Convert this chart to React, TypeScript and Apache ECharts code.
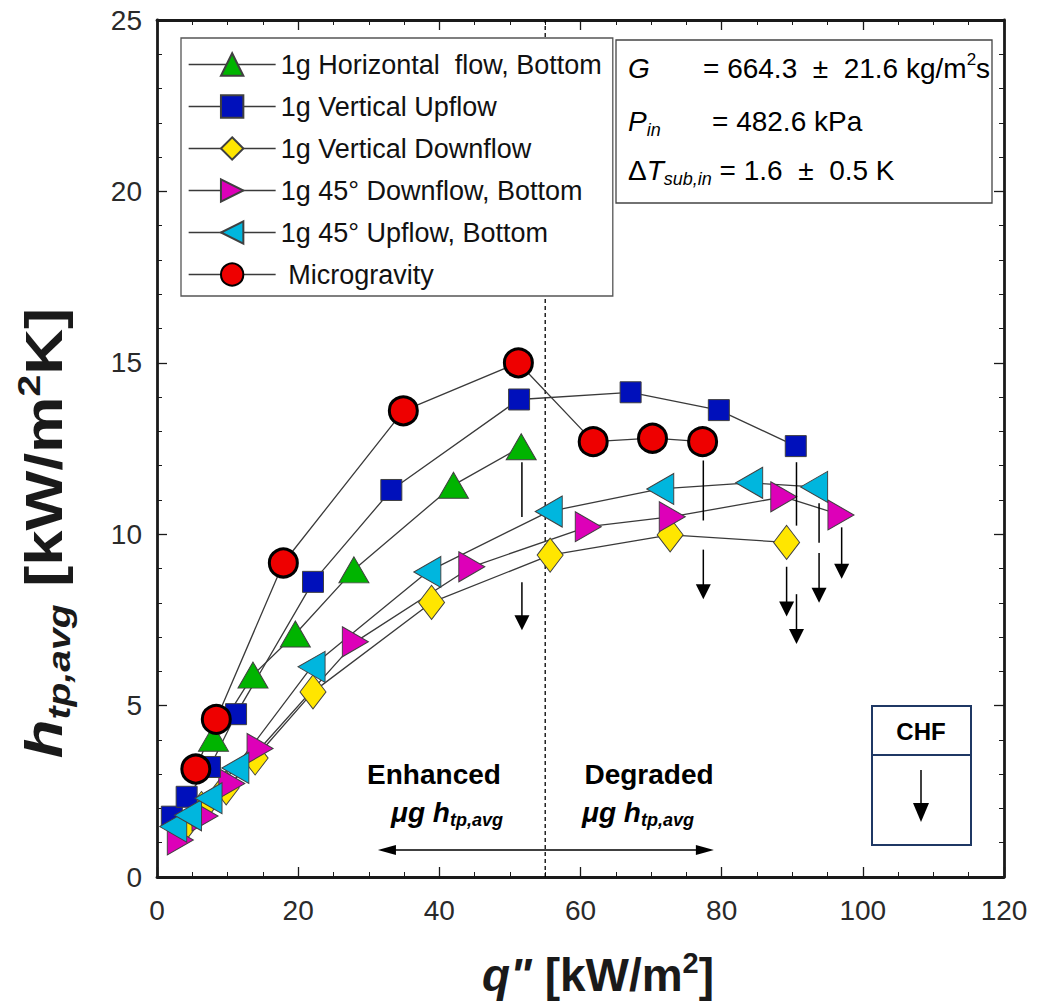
import { useEffect, useRef } from "react";
import * as echarts from "echarts";

// Heat flux q'' [kW/m²] vs. average two-phase heat transfer coefficient h_tp,avg [kW/m²K]
const horizQ = [8.0, 13.6, 19.6, 27.9, 42.0, 51.6];
const horizH = [4.05, 5.89, 7.09, 8.96, 11.43, 12.55];

const upQ = [2.1, 4.2, 7.5, 11.2, 22.1, 33.2, 51.3, 67.1, 79.6, 90.5];
const upH = [1.76, 2.34, 3.21, 4.75, 8.61, 11.29, 13.93, 14.14, 13.62, 12.57];

const downQ = [3.5, 6.3, 9.8, 13.9, 22.1, 38.9, 55.7, 72.7, 89.2];
const downH = [1.4, 2.0, 2.6, 3.47, 5.4, 8.01, 9.39, 9.98, 9.76];

const down45Q = [3.3, 6.8, 10.6, 14.6, 28.1, 44.6, 61.1, 73.0, 88.8, 96.9];
const down45H = [1.08, 1.78, 2.73, 3.75, 6.86, 9.05, 10.22, 10.51, 11.09, 10.56];

const up45Q = [2.3, 4.4, 7.3, 11.1, 21.9, 38.3, 55.5, 71.3, 83.9, 93.1];
const up45H = [1.47, 1.8, 2.3, 3.18, 6.13, 8.9, 10.66, 11.32, 11.5, 11.38];

const microQ = [5.5, 8.4, 17.9, 34.9, 51.2, 61.8, 70.2, 77.3];
const microH = [3.15, 4.6, 9.16, 13.6, 15.0, 12.7, 12.8, 12.7];

// CHF markers: [q, h start, h end, arrow head (1) or plain segment (0)]
const chfArrows = [
  [51.7, 12.1, 10.5, 0],
  [51.7, 8.6, 7.2, 1],
  [77.4, 12.15, 10.4, 0],
  [77.4, 9.55, 8.1, 1],
  [89.2, 9.05, 7.6, 1],
  [90.6, 12.1, 10.25, 0],
  [90.6, 8.25, 6.8, 1],
  [93.8, 10.9, 9.75, 0],
  [93.8, 9.45, 8.0, 1],
  [97.0, 10.2, 8.7, 1],
];

// Enhanced / degraded regime arrow: [q left, q right, h]
const regimeArrow = [[31.3, 78.9, 0.79]];
const dividerQ = 55;

const xTicks = { min: 0, max: 120, interval: 20 };
const yTicks = { min: 0, max: 25, interval: 5 };

const legendNames = [
  "1g Horizontal  flow, Bottom",
  "1g Vertical Upflow",
  "1g Vertical Downflow",
  "1g 45° Downflow, Bottom",
  "1g 45° Upflow, Bottom",
  " Microgravity",
];

const FONT = 'Arial, "Liberation Sans", Helvetica, sans-serif';
const LINE = "#3a3a3a";

const pairs = (q: number[], h: number[]) => q.map((x, i) => [x, h[i]]);

const RIGHT_TRI = "path://M0,0L26,15L0,30Z";
const LEFT_TRI = "path://M26,0L0,15L26,30Z";

export default function App() {
  const ref = useRef<HTMLDivElement>(null);

  useEffect(() => {
    if (!ref.current) return;
    const chart = echarts.init(ref.current, undefined, { renderer: "svg" });

    const lineSeries = (
      name: string,
      data: number[][],
      symbol: string,
      symbolSize: number | number[],
      color: string,
      border = "#404040",
      borderWidth = 1
    ) => ({
      name,
      type: "line",
      data,
      symbol,
      symbolSize,
      showSymbol: true,
      itemStyle: { color, borderColor: border, borderWidth },
      lineStyle: { color: LINE, width: 1.3 },
      emphasis: { disabled: true },
    });

    const axisCommon = {
      axisLine: { show: true, onZero: false, lineStyle: { color: "#1a1a1a", width: 2.8 } },
      axisTick: { show: true, inside: true, length: 10, lineStyle: { color: "#1a1a1a", width: 1.3 } },
      minorTick: { show: true, inside: true, length: 5, lineStyle: { color: "#1a1a1a", width: 1 } },
      splitLine: { show: false },
    };

    const sup = (size: number, extra: any = {}) => ({
      fontSize: size,
      fontFamily: FONT,
      fill: "#000",
      lineHeight: size,
      verticalAlign: "top",
      ...extra,
    });
    const sub = (size: number, extra: any = {}) => ({
      fontSize: size,
      fontFamily: FONT,
      fill: "#000",
      lineHeight: size,
      verticalAlign: "bottom",
      ...extra,
    });

    const option: any = {
      animation: false,
      textStyle: { fontFamily: FONT },
      grid: { left: 157, top: 20, right: 33, bottom: 128, containLabel: false },
      xAxis: [
        {
          type: "value",
          ...xTicks,
          position: "bottom",
          ...axisCommon,
          minorTick: { ...axisCommon.minorTick, splitNumber: 4 },
          axisLabel: { fontSize: 28, color: "#2a2a2a", margin: 19, fontFamily: FONT },
        },
        {
          type: "value",
          ...xTicks,
          position: "top",
          ...axisCommon,
          minorTick: { ...axisCommon.minorTick, splitNumber: 4 },
          axisLabel: { show: false },
        },
      ],
      yAxis: [
        {
          type: "value",
          ...yTicks,
          position: "left",
          ...axisCommon,
          minorTick: { ...axisCommon.minorTick, splitNumber: 5 },
          axisLabel: { fontSize: 28, color: "#2a2a2a", margin: 15, fontFamily: FONT },
        },
        {
          type: "value",
          ...yTicks,
          position: "right",
          ...axisCommon,
          minorTick: { ...axisCommon.minorTick, splitNumber: 5 },
          axisLabel: { show: false },
        },
      ],
      legend: {
        data: legendNames,
        orient: "vertical",
        left: 181,
        top: 38,
        padding: [13, 11, 8, 7],
        itemGap: 15,
        itemWidth: 87,
        itemHeight: 28,
        borderColor: "#555",
        borderWidth: 1.3,
        backgroundColor: "#fff",
        selectedMode: false,
        textStyle: { fontSize: 27, color: "#111", fontFamily: FONT },
        lineStyle: { color: LINE, width: 1.3, opacity: 1 },
      },
      series: [
        {
          type: "line",
          data: [
            [dividerQ, yTicks.min],
            [dividerQ, yTicks.max],
          ],
          symbol: "none",
          lineStyle: { color: "#000", width: 1.3, type: [4, 3] },
          z: 1,
          silent: true,
        },
        lineSeries(legendNames[2], pairs(downQ, downH), "diamond", [26, 34], "#ffe600"),
        lineSeries(legendNames[3], pairs(down45Q, down45H), RIGHT_TRI, [26, 30], "#dd00b8"),
        lineSeries(legendNames[1], pairs(upQ, upH), "rect", [21, 21], "#0010bb"),
        lineSeries(legendNames[0], pairs(horizQ, horizH), "triangle", [30, 26], "#00b400"),
        lineSeries(legendNames[4], pairs(up45Q, up45H), LEFT_TRI, [27, 31], "#00b6de"),
        lineSeries(legendNames[5], pairs(microQ, microH), "circle", 28, "#ee0000", "#000", 3),
        {
          type: "custom",
          data: chfArrows,
          z: 5,
          silent: true,
          renderItem: (_params: any, api: any) => {
            const q = api.value(0);
            const p1 = api.coord([q, api.value(1)]);
            const p2 = api.coord([q, api.value(2)]);
            const head = api.value(3) === 1;
            const len = 15;
            const half = 7.5;
            const children: any[] = [
              {
                type: "line",
                shape: { x1: p1[0], y1: p1[1], x2: p2[0], y2: head ? p2[1] - len + 2 : p2[1] },
                style: { stroke: "#000", lineWidth: 1.5 },
              },
            ];
            if (head) {
              children.push({
                type: "polygon",
                shape: {
                  points: [
                    [p2[0] - half, p2[1] - len],
                    [p2[0] + half, p2[1] - len],
                    [p2[0], p2[1]],
                  ],
                },
                style: { fill: "#000" },
              });
            }
            return { type: "group", children };
          },
        },
        {
          type: "custom",
          data: regimeArrow,
          z: 5,
          silent: true,
          renderItem: (_params: any, api: any) => {
            const h = api.value(2);
            const pL = api.coord([api.value(0), h]);
            const pR = api.coord([api.value(1), h]);
            const len = 18;
            const half = 5;
            return {
              type: "group",
              children: [
                {
                  type: "line",
                  shape: { x1: pL[0] + len - 2, y1: pL[1], x2: pR[0] - len + 2, y2: pR[1] },
                  style: { stroke: "#000", lineWidth: 1.5 },
                },
                {
                  type: "polygon",
                  shape: { points: [[pL[0], pL[1]], [pL[0] + len, pL[1] - half], [pL[0] + len, pL[1] + half]] },
                  style: { fill: "#000" },
                },
                {
                  type: "polygon",
                  shape: { points: [[pR[0], pR[1]], [pR[0] - len, pR[1] - half], [pR[0] - len, pR[1] + half]] },
                  style: { fill: "#000" },
                },
              ],
            };
          },
        },
      ],
      graphic: [
        // operating conditions box
        {
          type: "rect",
          shape: { x: 616, y: 40, width: 376, height: 163 },
          style: { fill: "#fff", stroke: "#444", lineWidth: 1.3 },
          z: 10,
        },
        {
          type: "text",
          x: 628,
          y: 68,
          z: 11,
          style: {
            text: "{i|G}",
            rich: { i: { fontSize: 28, fontStyle: "italic", fontFamily: FONT, fill: "#000" } },
            verticalAlign: "middle",
          },
        },
        {
          type: "text",
          x: 703,
          y: 68,
          z: 11,
          style: {
            text: "{n|= 664.3  ±  21.6 kg/m}{p|2}{n|s}",
            rich: {
              n: { fontSize: 28, fontFamily: FONT, fill: "#000", lineHeight: 34 },
              p: sup(17),
            },
            verticalAlign: "middle",
          },
        },
        {
          type: "text",
          x: 628,
          y: 121,
          z: 11,
          style: {
            text: "{i|P}{s|in}",
            rich: {
              i: { fontSize: 28, fontStyle: "italic", fontFamily: FONT, fill: "#000", lineHeight: 36 },
              s: sub(18, { fontStyle: "italic" }),
            },
            verticalAlign: "middle",
          },
        },
        {
          type: "text",
          x: 712,
          y: 121,
          z: 11,
          style: {
            text: "= 482.6 kPa",
            fontSize: 28,
            fontFamily: FONT,
            fill: "#000",
            verticalAlign: "middle",
          },
        },
        {
          type: "text",
          x: 628,
          y: 170,
          z: 11,
          style: {
            text: "{n|Δ}{i|T}{s|sub,in}{n| = 1.6  ±  0.5 K}",
            rich: {
              n: { fontSize: 28, fontFamily: FONT, fill: "#000", lineHeight: 36 },
              i: { fontSize: 28, fontStyle: "italic", fontFamily: FONT, fill: "#000", lineHeight: 36 },
              s: sub(18, { fontStyle: "italic" }),
            },
            verticalAlign: "middle",
          },
        },
        // regime annotations
        {
          type: "text",
          x: 434,
          y: 774,
          z: 11,
          style: { text: "Enhanced", fontSize: 28, fontWeight: "bold", fontFamily: FONT, fill: "#000", align: "center", verticalAlign: "middle" },
        },
        {
          type: "text",
          x: 447,
          y: 812,
          z: 11,
          style: {
            text: "{m|μg h}{s|tp,avg}",
            rich: {
              m: { fontSize: 28, fontWeight: "bold", fontStyle: "italic", fontFamily: FONT, fill: "#000", lineHeight: 34 },
              s: sub(18, { fontWeight: "bold", fontStyle: "italic" }),
            },
            align: "center",
            verticalAlign: "middle",
          },
        },
        {
          type: "text",
          x: 649,
          y: 774,
          z: 11,
          style: { text: "Degraded", fontSize: 28, fontWeight: "bold", fontFamily: FONT, fill: "#000", align: "center", verticalAlign: "middle" },
        },
        {
          type: "text",
          x: 638,
          y: 812,
          z: 11,
          style: {
            text: "{m|μg h}{s|tp,avg}",
            rich: {
              m: { fontSize: 28, fontWeight: "bold", fontStyle: "italic", fontFamily: FONT, fill: "#000", lineHeight: 34 },
              s: sub(18, { fontWeight: "bold", fontStyle: "italic" }),
            },
            align: "center",
            verticalAlign: "middle",
          },
        },
        // CHF key
        {
          type: "rect",
          shape: { x: 872, y: 706, width: 99, height: 139 },
          style: { fill: "#fff", stroke: "#1f3864", lineWidth: 2 },
          z: 10,
        },
        {
          type: "line",
          shape: { x1: 872, y1: 755, x2: 971, y2: 755 },
          style: { stroke: "#1f3864", lineWidth: 2 },
          z: 11,
        },
        {
          type: "text",
          x: 921,
          y: 731,
          z: 11,
          style: { text: "CHF", fontSize: 24, fontWeight: "bold", fontFamily: FONT, fill: "#000", align: "center", verticalAlign: "middle" },
        },
        {
          type: "line",
          shape: { x1: 921, y1: 770, x2: 921, y2: 806 },
          style: { stroke: "#000", lineWidth: 1.5 },
          z: 11,
        },
        {
          type: "polygon",
          shape: { points: [[913, 803], [929, 803], [921, 822]] },
          style: { fill: "#000" },
          z: 11,
        },
        // axis titles
        {
          type: "text",
          x: 44,
          y: 533,
          rotation: Math.PI / 2,
          scaleX: 1.22,
          z: 11,
          style: {
            text: "{h|h}{s|tp,avg}{n| [kW/m}{p|2}{n|K]}",
            rich: {
              h: { fontSize: 52, fontWeight: "bold", fontStyle: "italic", fontFamily: FONT, fill: "#1a1a1a", lineHeight: 62 },
              s: sub(32, { fontWeight: "bold", fontStyle: "italic", fill: "#1a1a1a" }),
              n: { fontSize: 52, fontWeight: "bold", fontFamily: FONT, fill: "#1a1a1a", lineHeight: 62 },
              p: sup(32, { fontWeight: "bold", fill: "#1a1a1a" }),
            },
            align: "center",
            verticalAlign: "middle",
          },
        },
        {
          type: "text",
          x: 598,
          y: 975,
          z: 11,
          style: {
            text: '{q|q" }{n|[kW/m}{p|2}{n|]}',
            rich: {
              q: { fontSize: 46, fontWeight: "bold", fontStyle: "italic", fontFamily: FONT, fill: "#1a1a1a", lineHeight: 54 },
              n: { fontSize: 46, fontWeight: "bold", fontFamily: FONT, fill: "#1a1a1a", lineHeight: 54 },
              p: sup(29, { fontWeight: "bold", fill: "#1a1a1a" }),
            },
            align: "center",
            verticalAlign: "middle",
          },
        },
      ],
    };

    chart.setOption(option);
    return () => chart.dispose();
  }, []);

  return (
    <div
      ref={ref}
      style={{ position: "fixed", left: 0, top: 0, width: 1037, height: 1005, background: "#fff" }}
    />
  );
}
